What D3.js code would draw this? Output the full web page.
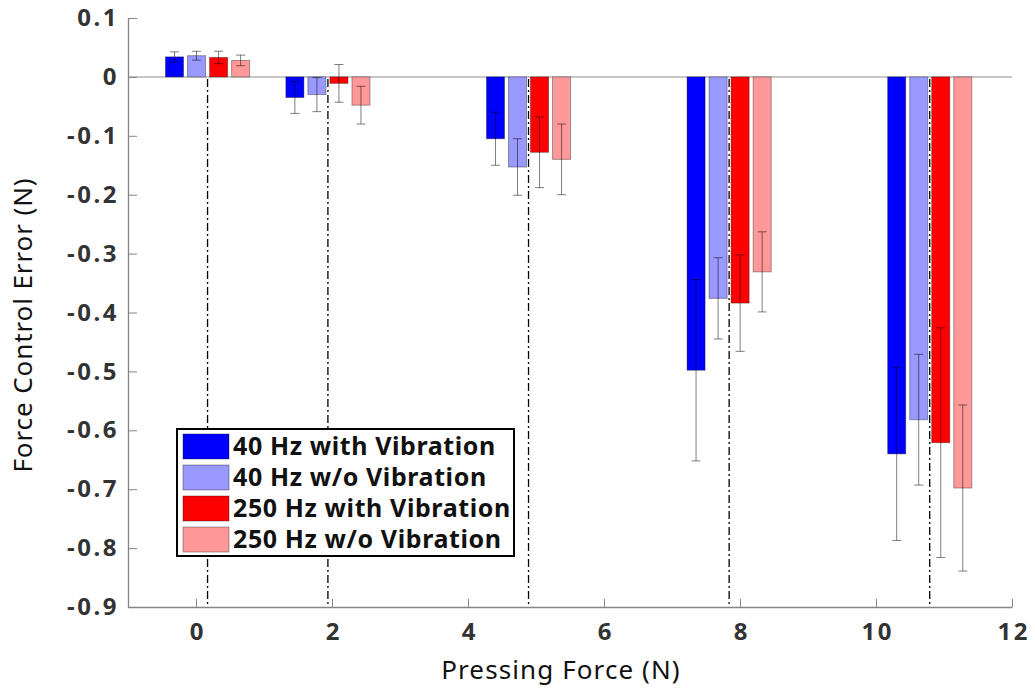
<!DOCTYPE html>
<html>
<head>
<meta charset="utf-8">
<script src="https://cdn.jsdelivr.net/npm/d3@7"></script>
<style>
  body { margin: 0; background: #fff; }
  svg { display: block; }
  .tick text { font-family: "Noto Sans", sans-serif; font-weight: 700; font-size: 24px; fill: #333; letter-spacing: 2.5px; }
</style>
</head>
<body>
<div class="chart"></div>
<script>
// Pressing force of each group (measured), one value per group
let forces = [0.17, 1.94, 4.89, 7.84, 10.79];

let seriesNames = ['40 Hz with Vibration', '40 Hz w/o Vibration', '250 Hz with Vibration', '250 Hz w/o Vibration'];
let seriesColors = ['#0000ff', '#9999ff', '#ff0000', '#ff9999'];

// mean force control error per series
let vib40 = [0.034, -0.035, -0.105, -0.498, -0.640],
    noVib40 = [0.036, -0.030, -0.153, -0.376, -0.582],
    vib250 = [0.033, -0.011, -0.128, -0.384, -0.621],
    noVib250 = [0.028, -0.048, -0.140, -0.331, -0.698];

// standard deviation per series
let vib40Err = [0.0085, 0.027, 0.045, 0.154, 0.147],
    noVib40Err = [0.0075, 0.029, 0.048, 0.069, 0.111],
    vib250Err = [0.0105, 0.032, 0.060, 0.082, 0.195],
    noVib250Err = [0.009, 0.032, 0.060, 0.068, 0.141];

let xTicks = [0, 2, 4, 6, 8, 10, 12];
let yTicks = [0.1, 0, -0.1, -0.2, -0.3, -0.4, -0.5, -0.6, -0.7, -0.8, -0.9];

let means = [vib40, noVib40, vib250, noVib250];
let errs = [vib40Err, noVib40Err, vib250Err, noVib250Err];

// bar spacing in x units
let barStep = 0.324,
    barW = 0.265;

let x = d3.scaleLinear().domain([-1, 12]).range([128, 1012]);
let y = d3.scaleLinear().domain([-0.9, 0.1]).range([607, 18]);

let svg = d3.select('.chart')
            .append('svg')
            .attr('width', 1035)
            .attr('height', 688);

// flatten into one record per bar
let bars = [];
means.forEach((s, i) => {
  s.forEach((v, g) => {
    bars.push({ s: i, x: forces[g] + (i - 1.5) * barStep, v: v, e: errs[i][g] });
  });
});

// zero line
svg.append('line')
   .attr('x1', x(-1)).attr('x2', x(12))
   .attr('y1', y(0)).attr('y2', y(0))
   .attr('stroke', '#b4b4b4')
   .attr('stroke-width', 1.5);

// bars
svg.append('g')
   .selectAll('rect')
   .data(bars)
   .join('rect')
   .attr('x', d => x(d.x - barW / 2))
   .attr('width', x(barW) - x(0))
   .attr('y', d => y(Math.max(0, d.v)))
   .attr('height', d => Math.abs(y(d.v) - y(0)))
   .attr('fill', d => seriesColors[d.s])
   .attr('stroke', 'rgba(0,0,0,0.35)')
   .attr('stroke-width', 1);

// error bars
let eb = svg.append('g')
            .attr('stroke', 'rgba(0,0,0,0.5)')
            .attr('stroke-width', 1)
            .selectAll('g')
            .data(bars)
            .join('g');

eb.append('line')
  .attr('x1', d => x(d.x)).attr('x2', d => x(d.x))
  .attr('y1', d => y(d.v + d.e)).attr('y2', d => y(d.v - d.e));
eb.append('line')
  .attr('x1', d => x(d.x) - 4.5).attr('x2', d => x(d.x) + 4.5)
  .attr('y1', d => y(d.v + d.e)).attr('y2', d => y(d.v + d.e));
eb.append('line')
  .attr('x1', d => x(d.x) - 4.5).attr('x2', d => x(d.x) + 4.5)
  .attr('y1', d => y(d.v - d.e)).attr('y2', d => y(d.v - d.e));

// dash-dot lines at each pressing force
svg.append('g')
   .selectAll('line')
   .data(forces)
   .join('line')
   .attr('x1', d => x(d)).attr('x2', d => x(d))
   .attr('y1', y(0) + 2).attr('y2', y(-0.9))
   .attr('stroke', '#000')
   .attr('stroke-width', 1.3)
   .attr('stroke-dasharray', '8,3,2,3');

// axes
let xAxis = svg.append('g')
               .attr('transform', 'translate(0,' + y(-0.9) + ')')
               .call(d3.axisBottom(x).tickValues(xTicks).tickSize(-8).tickSizeOuter(0).tickPadding(16));
xAxis.selectAll('text').attr('dx', 1.25);

let yAxis = svg.append('g')
               .attr('transform', 'translate(' + x(-1) + ',0)')
               .call(d3.axisLeft(y).tickValues(yTicks).tickSize(-9).tickSizeOuter(0).tickPadding(9)
                       .tickFormat(d => d === 0 ? '0' : d.toFixed(1)));

svg.selectAll('.domain').attr('stroke', '#858585').attr('stroke-width', 1.3);
svg.selectAll('.tick line').attr('stroke', '#858585');

// axis titles
svg.append('text')
   .attr('x', 561)
   .attr('y', 679)
   .attr('text-anchor', 'middle')
   .style('font-family', '"Noto Sans", sans-serif')
   .style('font-size', '26px')
   .style('letter-spacing', '1.1px')
   .attr('fill', '#111')
   .text('Pressing Force (N)');

svg.append('text')
   .attr('transform', 'translate(32,' + 325 + ') rotate(-90)')
   .attr('text-anchor', 'middle')
   .style('font-family', '"Noto Sans", sans-serif')
   .style('font-size', '26px')
   .style('letter-spacing', '0.9px')
   .attr('fill', '#111')
   .text('Force Control Error (N)');

// legend
let legend = svg.append('g').attr('transform', 'translate(177,429)');
legend.append('rect')
      .attr('width', 337).attr('height', 127)
      .attr('fill', '#fff')
      .attr('stroke', '#000')
      .attr('stroke-width', 2);

let item = legend.selectAll('g')
                 .data(seriesNames)
                 .join('g')
                 .attr('transform', (d, i) => 'translate(6,' + (5 + i * 31) + ')');
item.append('rect')
    .attr('width', 46).attr('height', 25)
    .attr('fill', (d, i) => seriesColors[i])
    .attr('stroke', 'rgba(0,0,0,0.35)');
item.append('text')
    .attr('x', 50).attr('y', 21)
    .style('font-family', '"Noto Sans", sans-serif')
    .style('font-weight', 700)
    .style('font-size', '25px')
    .style('letter-spacing', '0.6px')
    .attr('fill', '#111')
    .text(d => d);
</script>
</body>
</html>
